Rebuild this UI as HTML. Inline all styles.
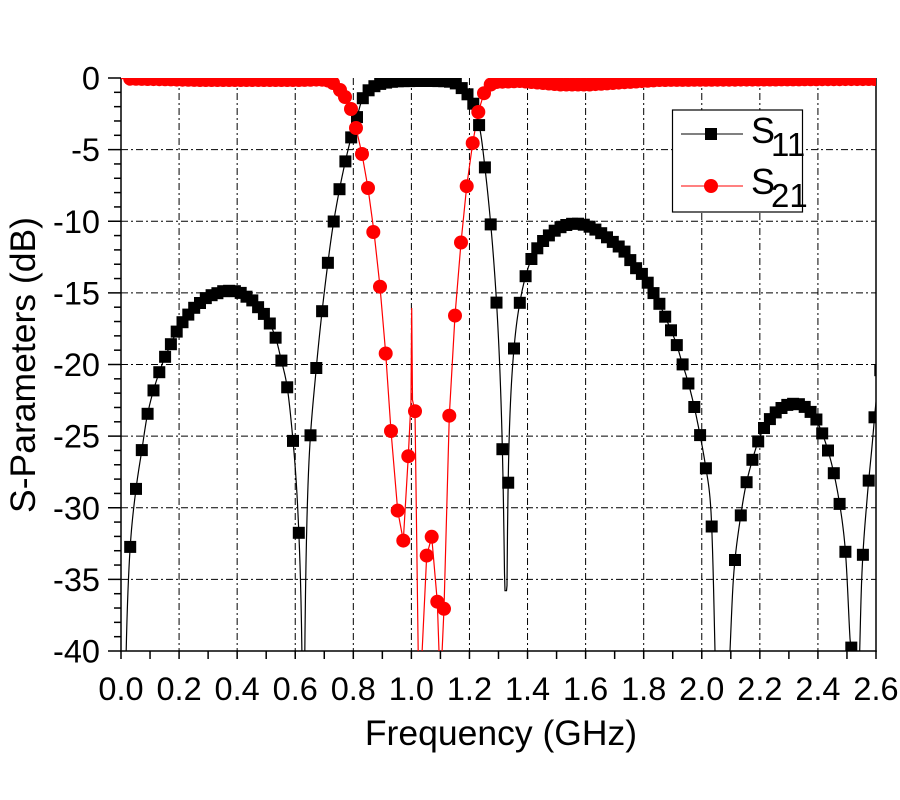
<!DOCTYPE html>
<html><head><meta charset="utf-8"><style>
html,body{margin:0;padding:0;background:#fff;width:900px;height:800px;overflow:hidden}
svg{display:block}
text{font-family:"Liberation Sans",Arial,sans-serif;fill:#000}
</style></head><body>
<svg id="c" width="900" height="800" viewBox="0 0 900 800" xmlns="http://www.w3.org/2000/svg">
<defs><clipPath id="pa"><rect x="121" y="78" width="755" height="573"/></clipPath></defs>
<g id="grid" stroke="#000" stroke-width="1" stroke-dasharray="7,3,2,3" fill="none"></g>
<g id="axes" stroke="#000" stroke-width="1.5" fill="none"></g>
<g id="labels"></g>
<g id="data" clip-path="url(#pa)"></g>
<g id="legend">
<rect x="672.5" y="110" width="130" height="102" fill="#fff" stroke="#000" stroke-width="1.2"/>
<line x1="681" y1="134" x2="743" y2="134" stroke="#000" stroke-width="1"/>
<rect x="705" y="128" width="12" height="12" fill="#000"/>
<text x="751" y="143" font-size="36">S</text><text x="771" y="156" font-size="33">11</text>
<line x1="681" y1="186" x2="743" y2="186" stroke="#f00" stroke-width="1"/>
<circle cx="711" cy="186" r="7" fill="#f00"/>
<text x="751" y="194" font-size="36">S</text><text x="771" y="207" font-size="33">21</text>
</g>
<text x="501" y="745" font-size="35.5" text-anchor="middle">Frequency (GHz)</text>
<text transform="translate(35,365) rotate(-90)" font-size="35.5" text-anchor="middle">S-Parameters (dB)</text>
</svg>
<script>
var NS="http://www.w3.org/2000/svg";
function el(p,t,a){var e=document.createElementNS(NS,t);for(var k in a)e.setAttribute(k,a[k]);p.appendChild(e);return e;}
var X=function(f){return 121+f*290.385;}, Y=function(d){return 78-d*14.325;};
var grid=document.getElementById('grid'),axes=document.getElementById('axes'),lab=document.getElementById('labels');
for(var i=1;i<=13;i++){var x=X(i*0.2);el(grid,'line',{x1:x,y1:78,x2:x,y2:651});}
for(var j=1;j<=7;j++){var y=Y(-5*j);el(grid,'line',{x1:121,y1:y,x2:876,y2:y});}
el(axes,'line',{x1:121,y1:78,x2:121,y2:651.75});
el(axes,'line',{x1:120.25,y1:651,x2:876.75,y2:651});
el(axes,'line',{x1:876,y1:78,x2:876,y2:651.75});
for(var i=0;i<=26;i++){var x=X(i*0.1);el(axes,'line',{x1:x,y1:651,x2:x,y2:659});}
for(var d=0;d<=40;d++){var y=Y(-d);el(axes,'line',{x1:(d%5==0?108:114),y1:y,x2:121,y2:y});}
for(var i=0;i<=13;i++){var t=el(lab,'text',{x:X(i*0.2),y:700,'font-size':32.5,'text-anchor':'middle'});t.textContent=(i*0.2).toFixed(1);}
for(var j=0;j<=8;j++){var t=el(lab,'text',{x:100,y:Y(-5*j)+11.5,'font-size':32.5,'text-anchor':'end'});t.textContent=j==0?'0':String(-5*j);}

function mono(xs,ys){var n=xs.length,d=[],m=[];for(var i=0;i<n-1;i++)d.push((ys[i+1]-ys[i])/(xs[i+1]-xs[i]));
m[0]=d[0];m[n-1]=d[n-2];for(var i=1;i<n-1;i++){m[i]=(d[i-1]*d[i]<=0)?0:(d[i-1]+d[i])/2;}
for(var i=0;i<n-1;i++){if(d[i]==0){m[i]=0;m[i+1]=0;continue;}var a=m[i]/d[i],b=m[i+1]/d[i],s=a*a+b*b;if(s>9){var t=3/Math.sqrt(s);m[i]=t*a*d[i];m[i+1]=t*b*d[i];}}
return function(x){if(x<=xs[0])return ys[0]+m[0]*(x-xs[0]);if(x>=xs[n-1])return ys[n-1]+m[n-1]*(x-xs[n-1]);
var k=0;while(x>xs[k+1])k++;var h=xs[k+1]-xs[k],t=(x-xs[k])/h,t2=t*t,t3=t2*t;
return (2*t3-3*t2+1)*ys[k]+(t3-2*t2+t)*h*m[k]+(-2*t3+3*t2)*ys[k+1]+(t3-t2)*h*m[k+1];};}
function amp(y){return Math.pow(10,(-(y-78)/14.325)/20);}
function yOf(a){a=Math.abs(a);if(a<1e-6)return 2000;return 78-20*Math.log10(a)*14.325;}

var c11=[[123.3,'z'],
[130,550],[136,489],[142,449],[147,417],[153,392],[159,373],[165,357],[171,344],[176,333],[182,323],[188,315],[194,308],[200,303],[206,298],[212,295],[218,293],[223,291.2],[229,290.8],[235,291.2],[241,293],[247,297],[253,301],[258,307],[264,314],[270,324],[276,339],[281,359],[287,386],[292,430],[298,514],
[303.5,'z'],
[309,461],[316,371],[322,312],[327,270],[333,226],[339,192],[345,163],[351,138],[357,117],[362,100],[367,92],[373,87],[380,84],[390,82],[400,81.2],[430,81],[448,81.5],[456,83.5],[463.9,90.5],[473.4,104],[480.3,131.4],[485.4,171.7],[491.2,229.7],[497.3,315.7],[503.5,506.2],
[506,'z'],
[509.3,433.5],[515,337.9],[521.2,295.3],[527,271.4],[532.8,256],[538.5,246.5],[544.5,239.5],[550.5,234],[556.5,229.5],[562.5,226.3],[568.5,224.5],[574.8,223.6],[580.5,224],[586.5,225.5],[592.5,228],[598.5,231.5],[604.5,235.5],[610.5,240],[616.5,245],[623.3,250.2],[629.3,258.6],[635,266.9],[641.7,273.6],[647.3,282],[653.3,292.6],[659.3,303.7],[664.3,314.7],[670,328],[676,342.7],[681.7,361.4],[687.7,380.8],[693.3,402.8],[699.3,431.2],[705.3,464.6],[710.7,507],[715,651],
[722,'z'],
[730,651],[733.7,574.5],[740,520.7],[745.7,486.3],[751.7,462.3],[757.3,444],[762.7,430.6],[768.5,421],[774,414],[780,409],[786,405.5],[791.7,403.8],[797.5,404],[803.3,406],[809,410.5],[815,417],[821.7,432.2],[827,447.2],[832.7,468.3],[838.7,498.3],[845,546.4],[850,638.6],[851.5,651],
[855.5,'z'],
[859.7,651],[861.7,579.1],[867.3,496.3],[872.3,443.2],[876,402.2],[882,360]];
var xs=[],as=[],sg=1;
for(var i=0;i<c11.length;i++){var p=c11[i];if(p[1]=='z'){xs.push(p[0]);as.push(0);sg=-sg;continue;}xs.push(p[0]);as.push(sg*amp(p[1]));}
var f11=mono(xs,as);
function s11y(x){var y=yOf(f11(x));if(x>499&&x<513)y=Math.min(y,590.7);if(x<123.3)y=700;return Math.min(y,700);}
var data=document.getElementById('data');
var pts=[];for(var x=121;x<=878;x+=0.5)pts.push(x.toFixed(1)+','+s11y(x).toFixed(1));
el(data,'polyline',{points:pts.join(' '),fill:'none',stroke:'#000','stroke-width':1.2});

function lin(ps){return function(x){for(var i=0;i<ps.length-1;i++)if(x<=ps[i+1][0]){var t=(x-ps[i][0])/(ps[i+1][0]-ps[i][0]);return ps[i][1]+t*(ps[i+1][1]-ps[i][1]);}return ps[ps.length-1][1];};}
var flat=lin([[121,78.5],[200,80],[300,80],[321,79.5],[327,80.5],[490,85],[496,82],[520,81],[560,84.5],[590,84.5],[620,82.5],[660,80],[876,79]]);
var trans=[[327,80.5],[333,83],[340,90],[345,97],[351,109],[356,128],[362,154],[368,188],[374,232],[380,286.7],[385.7,353.5],[391,431],[397.7,510.6],[403.3,540.6],[408.3,456.2],[411,400],[411.7,308],[412.5,400],[415,411.2],[418.3,660],[421.7,660],[426.7,555.6],[431.7,536.8],[437.3,601.7],[439.3,660],[441.7,660],[444,608.8],[449.3,415.7],[455,315.6],[461,242.5],[466.7,186.2],[472.7,143.1],[478.3,112],[484,93.2],[490,85],[496,82]];
var lp=[];for(var x=121;x<327;x+=3)lp.push(x+','+flat(x).toFixed(1));
trans.forEach(function(p){lp.push(p[0]+','+p[1]);});
for(var x=499;x<=878;x+=3)lp.push(x+','+flat(x).toFixed(1));
el(data,'polyline',{points:lp.join(' '),fill:'none',stroke:'#f00','stroke-width':1.2});

var g11=el(data,'g',{fill:'#000'}),g21=el(data,'g',{fill:'#f00'});
var tm=[[373.3,232],[380,286.7],[385.7,353.5],[391,431],[397.7,510.6],[403.3,540.6],[408.3,456.2],[415,411.2],[426.7,555.6],[431.7,536.8],[437.3,601.7],[444,608.8],[449.3,415.7],[455,315.6],[461,242.5],[466.7,186.2],[472.7,143.1],[478.3,112],[484,93.2],[333,83],[340,90],[345,97],[351,109],[356,128],[362,154],[368,188]];
for(var k=0;k<=130;k++){var x=130.2+5.815*k;
  var y=s11y(x);if(y<660)el(g11,'rect',{x:(x-6).toFixed(1),y:(y-6).toFixed(1),width:12,height:12});
  if(x<330||x>488)el(g21,'circle',{cx:x.toFixed(1),cy:flat(x).toFixed(1),r:7});}
tm.forEach(function(p){el(g21,'circle',{cx:p[0],cy:p[1],r:7});});
</script>
</body></html>
